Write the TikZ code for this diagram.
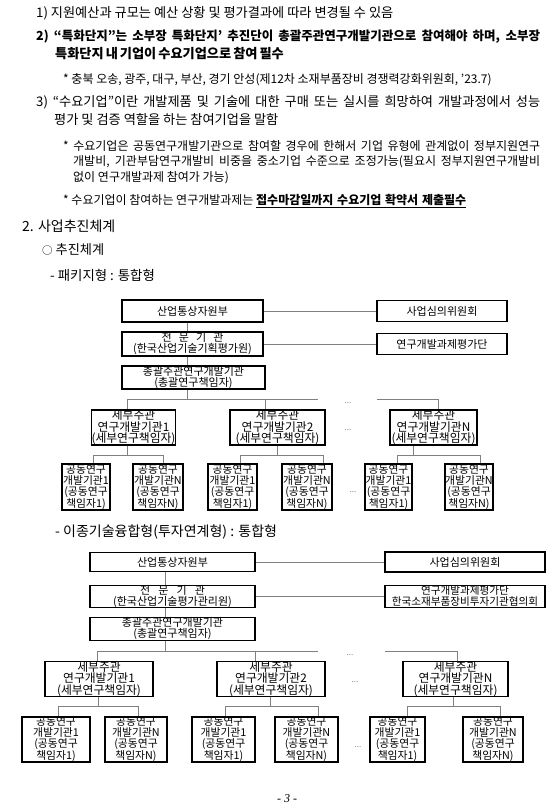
\documentclass[tikz,border=0pt]{standalone}
\usepackage{fontspec}
\setmainfont{Noto Sans CJK KR}
\newfontfamily\pnfont{Liberation Serif}
\definecolor{conncol}{gray}{0.5}
\newcommand{\jline}[2]{\makebox[#1][s]{#2}}
\tikzset{
  box/.style={draw=black, line width=1.25pt, inner sep=0pt, align=center, fill=white},
  topbox/.style={box, font=\fontsize{11}{11}\selectfont},
  sebubox/.style={box, font=\fontsize{11.8}{11.3}\selectfont, minimum height=35pt},
  gongbox/.style={box, font=\fontsize{10.8}{11}\selectfont, minimum height=46pt},
  conn/.style={draw=conncol, line width=0.7pt},
  txt/.style={anchor=west, inner sep=0pt},
  maintxt/.style={txt, font=\fontsize{13.2}{15}\selectfont},
  smalltxt/.style={txt, font=\fontsize{12}{14}\selectfont},
  dotsnode/.style={inner sep=0pt, text=conncol, font=\fontsize{8}{8}\selectfont},
}
\begin{document}
\begin{tikzpicture}[x=1pt,y=-1pt]
\fill[white] (0,0) rectangle (556,808);
\useasboundingbox (0,0) rectangle (556,808);

% ---------- text block ----------
\node[maintxt] (l1) at (36,13) {1) 지원예산과 규모는 예산 상황 및 평가결과에 따라 변경될 수 있음};
\node[maintxt, font=\fontsize{12.5}{15}\selectfont] (l2) at (36,37) {\bfseries\jline{504pt}{2) “특화단지”는 소부장 특화단지’ 추진단이 총괄주관연구개발기관으로 참여해야 하며, 소부장}};
\node[maintxt] (l3) at (55,54) {\bfseries\jline{222pt}{특화단지 내 기업이 수요기업으로 참여 필수}};
\node[smalltxt] (l4) at (63,80) {* 충북 오송, 광주, 대구, 부산, 경기 안성(제12차 소재부품장비 경쟁력강화위원회, ’23.7)};
\node[maintxt] (l5) at (36,102) {\jline{504pt}{3) “수요기업”이란 개발제품 및 기술에 대한 구매 또는 실시를 희망하여 개발과정에서 성능}};
\node[maintxt] (l6) at (54,120) {평가 및 검증 역할을 하는 참여기업을 말함};
\node[smalltxt] (l7) at (63,146) {\jline{477pt}{* 수요기업은 공동연구개발기관으로 참여할 경우에 한해서 기업 유형에 관계없이 정부지원연구}};
\node[smalltxt] (l8) at (73,162) {\jline{467pt}{개발비, 기관부담연구개발비 비중을 중소기업 수준으로 조정가능(필요시 정부지원연구개발비}};
\node[smalltxt] (l9) at (73,178) {없이 연구개발과제 참여가 가능)};
\node[smalltxt] (l10) at (63,201) {* 수요기업이 참여하는 연구개발과제는 \underline{\bfseries\jline{210pt}{접수마감일까지 수요기업 확약서 제출필수}}};
\node[txt, font=\fontsize{14}{16}\selectfont] (h2) at (22,226) {2. 사업추진체계};
\node[maintxt] (h3) at (42,250) {{\fontsize{10.5}{10}\selectfont ○} 추진체계};
\node[txt, font=\fontsize{13.4}{15}\selectfont] (h4) at (50,275) {- 패키지형 : 통합형};
\node[txt, font=\fontsize{14}{16}\selectfont] (h5) at (55,532) {- 이종기술융합형(투자연계형) : 통합형};
\node[inner sep=0pt, font=\pnfont\itshape\fontsize{12}{14}\selectfont] (pn) at (287,799) {- 3 -};

% ---------- upper diagram ----------
\node[topbox, minimum width=141pt, minimum height=22pt] (sanup1) at (192.5,311) {산업통상자원부};
\node[topbox, minimum width=130pt, minimum height=21pt] (simui1) at (442,311) {사업심의위원회};
\node[topbox, minimum width=141pt, minimum height=24pt] (jeon1) at (192.5,344) {\jline{62pt}{전 문 기 관}\\(한국산업기술기획평가원)};
\node[topbox, minimum width=130pt, minimum height=21pt] (peval1) at (442,344) {연구개발과제평가단};
\node[topbox, minimum width=143pt, minimum height=23pt] (chong1) at (193.5,377.5) {총괄주관연구개발기관\\(총괄연구책임자)};

\node[sebubox, minimum width=83pt] (sebu11) at (133.5,427.5) {세부주관\\연구개발기관1\\(세부연구책임자)};
\node[sebubox, minimum width=95pt] (sebu12) at (277.5,427.5) {세부주관\\연구개발기관2\\(세부연구책임자)};
\node[sebubox, minimum width=87pt] (sebu1N) at (433.5,427.5) {세부주관\\연구개발기관N\\(세부연구책임자)};

\node[gongbox, minimum width=48pt] (gong11) at (86,487) {공동연구\\개발기관1\\(공동연구\\책임자1)};
\node[gongbox, minimum width=50pt] (gong12) at (158,487) {공동연구\\개발기관N\\(공동연구\\책임자N)};
\node[gongbox, minimum width=49pt] (gong13) at (232.5,487) {공동연구\\개발기관1\\(공동연구\\책임자1)};
\node[gongbox, minimum width=50pt] (gong14) at (307,487) {공동연구\\개발기관N\\(공동연구\\책임자N)};
\node[gongbox, minimum width=47pt] (gong15) at (388.5,487) {공동연구\\개발기관1\\(공동연구\\책임자1)};
\node[gongbox, minimum width=48pt] (gong16) at (469,487) {공동연구\\개발기관N\\(공동연구\\책임자N)};

\node[dotsnode] (ud1) at (348,403) {...};
\node[dotsnode] (ud2) at (348,430) {...};
\node[dotsnode] (ud3) at (353,492) {...};

\coordinate (ut) at (187,0);
\draw[conn] (sanup1.east) -- (simui1.west);
\draw[conn] (jeon1.east) -- (peval1.west);
\draw[conn] (sanup1.south -| ut) -- (jeon1.north -| ut);
\draw[conn] (jeon1.south -| ut) -- (chong1.north -| ut);
\coordinate (ubL) at (127,399);
\coordinate (ubM) at (318,399);
\coordinate (ub2) at (265,399);
\coordinate (ubR1) at (377,399);
\coordinate (ubR2) at (438,399);
\draw[conn] (chong1.south -| ut) -- (ut |- ubL);
\draw[conn] (ubL) -- (ubM);
\draw[conn] (ubR1) -- (ubR2);
\draw[conn] (ubL) -- (ubL |- sebu11.north);
\draw[conn] (ub2) -- (ub2 |- sebu12.north);
\draw[conn] (ubR2) -- (ubR2 |- sebu1N.north);
% sub buses upper
\coordinate (us1a) at (93,455);  \coordinate (us1b) at (163,455); \coordinate (us1d) at (127,455);
\coordinate (us2a) at (240,455); \coordinate (us2b) at (323,455); \coordinate (us2d) at (277,455);
\coordinate (us3a) at (397,455); \coordinate (us3b) at (480,455); \coordinate (us3d) at (413,455);
\draw[conn] (us1a) -- (us1b);
\draw[conn] (sebu11.south -| us1d) -- (us1d);
\draw[conn] (us1a) -- (us1a |- gong11.north);
\draw[conn] (us1b) -- (us1b |- gong12.north);
\draw[conn] (us2a) -- (us2b);
\draw[conn] (sebu12.south -| us2d) -- (us2d);
\draw[conn] (us2a) -- (us2a |- gong13.north);
\draw[conn] (us2b) -- (us2b |- gong14.north);
\draw[conn] (us3a) -- (us3b);
\draw[conn] (sebu1N.south -| us3d) -- (us3d);
\draw[conn] (us3a) -- (us3a |- gong15.north);
\draw[conn] (us3b) -- (us3b |- gong16.north);

% ---------- lower diagram ----------
\node[topbox, minimum width=165pt, minimum height=19pt] (sanup2) at (172.5,562) {산업통상자원부};
\node[topbox, minimum width=160pt, minimum height=20pt] (simui2) at (465,562) {사업심의위원회};
\node[topbox, minimum width=165pt, minimum height=21pt] (jeon2) at (172.5,596.5) {\jline{65pt}{전 문 기 관}\\(한국산업기술평가관리원)};
\node[topbox, minimum width=160pt, minimum height=22pt, font=\fontsize{10.6}{11}\selectfont] (peval2) at (465,596.5) {연구개발과제평가단\\한국소재부품장비투자기관협의회};
\node[topbox, minimum width=165pt, minimum height=22pt] (chong2) at (172.5,629) {총괄주관연구개발기관\\(총괄연구책임자)};

\node[sebubox, minimum width=108pt, minimum height=32pt] (sebu21) at (99,679) {세부주관\\연구개발기관1\\(세부연구책임자)};
\node[sebubox, minimum width=108pt, minimum height=32pt] (sebu22) at (271,679) {세부주관\\연구개발기관2\\(세부연구책임자)};
\node[sebubox, minimum width=105pt, minimum height=32pt] (sebu2N) at (455.5,679) {세부주관\\연구개발기관N\\(세부연구책임자)};

\node[gongbox, minimum width=68pt, minimum height=45pt] (gong21) at (56,739.5) {공동연구\\개발기관1\\(공동연구\\책임자1)};
\node[gongbox, minimum width=62pt, minimum height=45pt] (gong22) at (136,739.5) {공동연구\\개발기관N\\(공동연구\\책임자N)};
\node[gongbox, minimum width=63pt, minimum height=45pt] (gong23) at (223.5,739.5) {공동연구\\개발기관1\\(공동연구\\책임자1)};
\node[gongbox, minimum width=63pt, minimum height=45pt] (gong24) at (306.5,739.5) {공동연구\\개발기관N\\(공동연구\\책임자N)};
\node[gongbox, minimum width=55pt, minimum height=45pt] (gong25) at (397.5,739.5) {공동연구\\개발기관1\\(공동연구\\책임자1)};
\node[gongbox, minimum width=60pt, minimum height=45pt] (gong26) at (493,739.5) {공동연구\\개발기관N\\(공동연구\\책임자N)};

\node[dotsnode] (ld1) at (350,655) {...};
\node[dotsnode] (ld2) at (355,682) {...};
\node[dotsnode] (ld3) at (358,747) {...};

\coordinate (lt) at (165,0);
\draw[conn] (sanup2.east) -- (simui2.west);
\draw[conn] (jeon2.east) -- (peval2.west);
\draw[conn] (sanup2.south -| lt) -- (jeon2.north -| lt);
\draw[conn] (jeon2.south -| lt) -- (chong2.north -| lt);
\coordinate (lbL) at (97,651);
\coordinate (lbM) at (318,651);
\coordinate (lb2) at (255,651);
\coordinate (lbR1) at (385,651);
\coordinate (lbR2) at (457,651);
\draw[conn] (chong2.south -| lt) -- (lt |- lbL);
\draw[conn] (lbL) -- (lbM);
\draw[conn] (lbR1) -- (lbR2);
\draw[conn] (lbL) -- (lbL |- sebu21.north);
\draw[conn] (lb2) -- (lb2 |- sebu22.north);
\draw[conn] (lbR2) -- (lbR2 |- sebu2N.north);
\coordinate (ls1a) at (58,706);  \coordinate (ls1b) at (138,706); \coordinate (ls1d) at (98,706);
\coordinate (ls2a) at (225,706); \coordinate (ls2b) at (318,706); \coordinate (ls2d) at (270,706);
\coordinate (ls3a) at (407,706); \coordinate (ls3b) at (500,706); \coordinate (ls3d) at (453,706);
\draw[conn] (ls1a) -- (ls1b);
\draw[conn] (sebu21.south -| ls1d) -- (ls1d);
\draw[conn] (ls1a) -- (ls1a |- gong21.north);
\draw[conn] (ls1b) -- (ls1b |- gong22.north);
\draw[conn] (ls2a) -- (ls2b);
\draw[conn] (sebu22.south -| ls2d) -- (ls2d);
\draw[conn] (ls2a) -- (ls2a |- gong23.north);
\draw[conn] (ls2b) -- (ls2b |- gong24.north);
\draw[conn] (ls3a) -- (ls3b);
\draw[conn] (sebu2N.south -| ls3d) -- (ls3d);
\draw[conn] (ls3a) -- (ls3a |- gong25.north);
\draw[conn] (ls3b) -- (ls3b |- gong26.north);
\end{tikzpicture}
\end{document}
